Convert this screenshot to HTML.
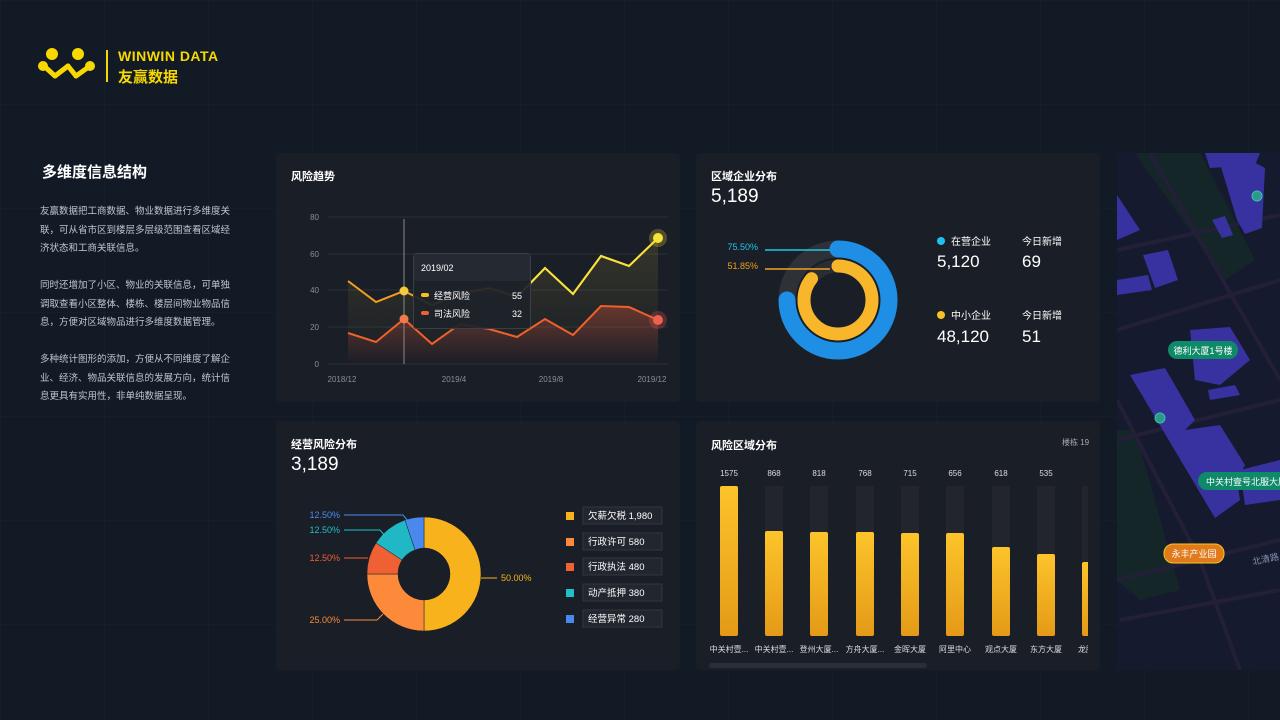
<!DOCTYPE html>
<html><head><meta charset="utf-8"><style>
*{margin:0;padding:0;box-sizing:border-box}
body{width:1280px;height:720px;overflow:hidden;background:#121a26;font-family:"Liberation Sans","Noto Sans CJK SC",sans-serif;color:#fff;position:relative;
background-image:linear-gradient(rgba(255,255,255,0.018) 1px,transparent 1px),linear-gradient(90deg,rgba(255,255,255,0.018) 1px,transparent 1px);background-size:104px 104px}
.abs{position:absolute}
.panel{position:absolute;background:#1a1e26;border-radius:4px}
.t{position:absolute;font-size:11px;color:#fff;font-weight:bold}
.big{position:absolute;font-size:19px;color:#fff}
.lp{position:absolute;left:40px;font-size:9.5px;color:#c2c6cc;line-height:18.5px;width:200px}
</style></head><body>
<!-- logo -->
<svg class="abs" style="left:38px;top:46px" width="62" height="40" viewBox="0 0 62 40">
<g fill="#f7d800" stroke="#f7d800" stroke-width="5" stroke-linecap="round">
<line x1="6" y1="20" x2="17" y2="30"/><line x1="17" y1="30" x2="30" y2="20"/><line x1="30" y1="20" x2="38" y2="30"/><line x1="38" y1="30" x2="52" y2="20"/>
<circle cx="14" cy="8" r="3.5"/><circle cx="40" cy="8" r="3.5"/><circle cx="5" cy="20" r="2.5"/><circle cx="52" cy="20" r="2.5"/></g></svg>
<div class="abs" style="left:106px;top:50px;width:2px;height:32px;background:#f7d800"></div>
<div class="abs" style="left:118px;top:48px;font-size:14px;font-weight:bold;color:#f7d800;letter-spacing:0.5px">WINWIN DATA</div>
<div class="abs" style="left:118px;top:66px;font-size:15px;font-weight:bold;color:#f7d800">友赢数据</div>

<div class="abs" style="left:42px;top:161px;font-size:15px;color:#fff;font-weight:bold">多维度信息结构</div>
<div class="lp" style="top:203px">友赢数据把工商数据、物业数据进行多维度关<br>联，可从省市区到楼层多层级范围查看区域经<br>济状态和工商关联信息。</div>
<div class="lp" style="top:277px">同时还增加了小区、物业的关联信息，可单独<br>调取查看小区整体、楼栋、楼层间物业物品信<br>息，方便对区域物品进行多维度数据管理。</div>
<div class="lp" style="top:351px">多种统计图形的添加，方便从不同维度了解企<br>业、经济、物品关联信息的发展方向，统计信<br>息更具有实用性，非单纯数据呈现。</div>

<!-- panel 1 -->
<div class="panel" style="left:276px;top:153px;width:404px;height:249px"></div>
<div class="t" style="left:291px;top:168px">风险趋势</div>
<svg class="abs" style="left:276px;top:153px" width="404" height="249" viewBox="276 153 404 249">
<defs><linearGradient id="gy" x1="0" y1="0" x2="0" y2="1"><stop offset="0" stop-color="#f5e04a" stop-opacity="0.12"/><stop offset="1" stop-color="#f5e04a" stop-opacity="0"/></linearGradient>
<linearGradient id="gr" x1="0" y1="0" x2="0" y2="1"><stop offset="0" stop-color="#e0503a" stop-opacity="0.35"/><stop offset="1" stop-color="#e0503a" stop-opacity="0"/></linearGradient></defs>
<g stroke="#2c3038" stroke-width="1"><line x1="328" y1="217" x2="668" y2="217"/><line x1="328" y1="254" x2="668" y2="254"/><line x1="328" y1="290" x2="668" y2="290"/><line x1="328" y1="327" x2="668" y2="327"/><line x1="328" y1="364" x2="668" y2="364"/></g>
<g fill="#8a8e96" font-size="8" text-anchor="end"><text x="319" y="220">80</text><text x="319" y="257">60</text><text x="319" y="293">40</text><text x="319" y="330">20</text><text x="319" y="367">0</text></g>
<g fill="#8a8e96" font-size="8" text-anchor="middle"><text x="342" y="382">2018/12</text><text x="454" y="382">2019/4</text><text x="551" y="382">2019/8</text><text x="652" y="382">2019/12</text></g>
<path d="M348 281 L376 302 L404 291 L432 305 L460 294 L489 288 L517 297 L545 268 L573 294 L601 256 L629 266 L658 238 L658 364 L348 364Z" fill="url(#gy)"/>
<path d="M348 333 L376 342 L404 319 L432 344 L460 324 L489 329 L517 337 L545 319 L573 335 L601 306 L629 307 L658 320 L658 364 L348 364Z" fill="url(#gr)"/>
<polyline points="348,281 376,302 404,291 432,305 460,294 489,288 517,297 545,268 573,294 601,256 629,266 658,238" fill="none" stroke="#f3a01c" stroke-width="2"/>
<polyline points="517,297 545,268 573,294 601,256 629,266 658,238" fill="none" stroke="#f7e23c" stroke-width="2"/>
<polyline points="348,333 376,342 404,319 432,344 460,324 489,329 517,337 545,319 573,335 601,306 629,307 658,320" fill="none" stroke="#f0602a" stroke-width="2"/>
<line x1="404" y1="219" x2="404" y2="364" stroke="#888" stroke-width="1"/>
<circle cx="404" cy="291" r="4.5" fill="#f7c93c"/><circle cx="404" cy="319" r="4.5" fill="#f27a4a"/>
<circle cx="658" cy="238" r="9" fill="#f7e23c" opacity="0.25"/><circle cx="658" cy="238" r="5" fill="#f7e23c"/>
<circle cx="658" cy="320" r="9" fill="#f06050" opacity="0.25"/><circle cx="658" cy="320" r="5" fill="#f06050"/>
<rect x="413.5" y="253.5" width="117" height="75" rx="3" fill="#1e222a" fill-opacity="0.93" stroke="#3a3e46"/>
<rect x="414" y="254" width="116" height="27" fill="#252a32"/>
<text x="421" y="271" font-size="9" fill="#fff">2019/02</text>
<rect x="421" y="293" width="8" height="4" rx="2" fill="#f7c020"/><text x="434" y="299" font-size="9" fill="#fff">经营风险</text><text x="522" y="299" font-size="9" fill="#fff" text-anchor="end">55</text>
<rect x="421" y="311" width="8" height="4" rx="2" fill="#f06030"/><text x="434" y="317" font-size="9" fill="#fff">司法风险</text><text x="522" y="317" font-size="9" fill="#fff" text-anchor="end">32</text>
</svg>

<!-- panel 2 -->
<div class="panel" style="left:696px;top:153px;width:404px;height:249px"></div>
<div class="t" style="left:711px;top:168px">区域企业分布</div>
<div class="big" style="left:711px;top:186px">5,189</div>
<svg class="abs" style="left:696px;top:153px" width="404" height="249" viewBox="696 153 404 249">
<circle cx="838" cy="300" r="51" fill="none" stroke="#2e3138" stroke-width="17"/>
<circle cx="838" cy="300" r="34" fill="none" stroke="#2a2d33" stroke-width="13"/>
<circle cx="838" cy="300" r="51" fill="none" stroke="#1f8fe6" stroke-width="17" stroke-linecap="round" stroke-dasharray="240 400" transform="rotate(-90 838 300)"/>
<circle cx="838" cy="300" r="34" fill="none" stroke="#f8b72a" stroke-width="13" stroke-linecap="round" stroke-dasharray="183 400" transform="rotate(-90 838 300)"/>
<line x1="765" y1="250" x2="830" y2="250" stroke="#1ec8e8" stroke-width="1.5"/>
<line x1="765" y1="269" x2="830" y2="269" stroke="#f0a020" stroke-width="1.5"/>
<text x="758" y="250" font-size="9" fill="#1ec8e8" text-anchor="end">75.50%</text>
<text x="758" y="269" font-size="9" fill="#f0a020" text-anchor="end">51.85%</text>
<circle cx="941" cy="241" r="4" fill="#1ec0f0"/><text x="951" y="245" font-size="10" fill="#fff">在营企业</text>
<text x="1022" y="245" font-size="10" fill="#fff">今日新增</text>
<text x="937" y="267" font-size="17" fill="#fff">5,120</text><text x="1022" y="267" font-size="17" fill="#fff">69</text>
<circle cx="941" cy="315" r="4" fill="#f8c020"/><text x="951" y="319" font-size="10" fill="#fff">中小企业</text>
<text x="1022" y="319" font-size="10" fill="#fff">今日新增</text>
<text x="937" y="342" font-size="17" fill="#fff">48,120</text><text x="1022" y="342" font-size="17" fill="#fff">51</text>
</svg>

<!-- panel 3 -->
<div class="panel" style="left:276px;top:421px;width:404px;height:249px"></div>
<div class="t" style="left:291px;top:436px">经营风险分布</div>
<div class="big" style="left:291px;top:454px">3,189</div>
<svg class="abs" style="left:276px;top:421px" width="404" height="249" viewBox="276 421 404 249">
<g stroke="#1a1e26" stroke-width="0.5">
<path d="M424 517 A57 57 0 0 1 424 631 L424 600 A26 26 0 0 0 424 548Z" fill="#f8b31c"/>
<path d="M424 631 A57 57 0 0 1 367 574 L398 574 A26 26 0 0 0 424 600Z" fill="#fc8a3a"/>
<path d="M367 574 A57 57 0 0 1 376 543 L402 560 A26 26 0 0 0 398 574Z" fill="#f06035"/>
<path d="M376 543 A57 57 0 0 1 405 520 L415 550 A26 26 0 0 0 402 560Z" fill="#20b8c4"/>
<path d="M405 520 A57 57 0 0 1 424 517 L424 548 A26 26 0 0 0 415 550Z" fill="#4a88ee"/>
</g>
<g fill="none" stroke-width="1"><polyline points="344,515 403,515 408,521" stroke="#4a8ef0"/><polyline points="344,530 380,530 386,537" stroke="#20c0c8"/><polyline points="344,558 368,558" stroke="#f06035"/><polyline points="344,620 377,620 383,614" stroke="#fc8a3a"/><polyline points="481,578 497,578" stroke="#f8b31c"/></g>
<g font-size="9"><text x="340" y="518" fill="#4a8ef0" text-anchor="end">12.50%</text><text x="340" y="533" fill="#20c0c8" text-anchor="end">12.50%</text><text x="340" y="561" fill="#f06035" text-anchor="end">12.50%</text><text x="340" y="623" fill="#fc8a3a" text-anchor="end">25.00%</text><text x="501" y="581" fill="#f8b31c">50.00%</text></g>
<g font-size="9.5" fill="#fff">
<rect x="566" y="512" width="8" height="8" fill="#f8b31c"/><rect x="583" y="507" width="79" height="17" fill="#22262e" stroke="#33373f"/><text x="588" y="519">欠薪欠税 1,980</text>
<rect x="566" y="538" width="8" height="8" fill="#fc8a3a"/><rect x="583" y="533" width="79" height="17" fill="#22262e" stroke="#33373f"/><text x="588" y="545">行政许可 580</text>
<rect x="566" y="563" width="8" height="8" fill="#f06035"/><rect x="583" y="558" width="79" height="17" fill="#22262e" stroke="#33373f"/><text x="588" y="570">行政执法 480</text>
<rect x="566" y="589" width="8" height="8" fill="#20c0c8"/><rect x="583" y="584" width="79" height="17" fill="#22262e" stroke="#33373f"/><text x="588" y="596">动产抵押 380</text>
<rect x="566" y="615" width="8" height="8" fill="#4a88ee"/><rect x="583" y="610" width="79" height="17" fill="#22262e" stroke="#33373f"/><text x="588" y="622">经营异常 280</text>
</g>
</svg>

<!-- panel 4 -->
<div class="panel" style="left:696px;top:421px;width:404px;height:249px"></div>
<div class="t" style="left:711px;top:437px">风险区域分布</div>
<div class="abs" style="left:1062px;top:437px;font-size:8px;color:#aaa">楼栋 19</div>
<svg class="abs" style="left:696px;top:421px" width="392" height="249" viewBox="696 421 392 249">
<defs><linearGradient id="gb" x1="0" y1="0" x2="0" y2="1"><stop offset="0" stop-color="#fcc42a"/><stop offset="1" stop-color="#e49a18"/></linearGradient></defs>
<g fill="#22252c"><rect x="765" y="486" width="18" height="150"/><rect x="810" y="486" width="18" height="150"/><rect x="856" y="486" width="18" height="150"/><rect x="901" y="486" width="18" height="150"/><rect x="946" y="486" width="18" height="150"/><rect x="992" y="486" width="18" height="150"/><rect x="1037" y="486" width="18" height="150"/><rect x="1082" y="486" width="18" height="150"/></g>
<g fill="url(#gb)"><rect x="720" y="486" width="18" height="150" rx="2"/><rect x="765" y="531" width="18" height="105" rx="2"/><rect x="810" y="532" width="18" height="104" rx="2"/><rect x="856" y="532" width="18" height="104" rx="2"/><rect x="901" y="533" width="18" height="103" rx="2"/><rect x="946" y="533" width="18" height="103" rx="2"/><rect x="992" y="547" width="18" height="89" rx="2"/><rect x="1037" y="554" width="18" height="82" rx="2"/><rect x="1082" y="562" width="18" height="74" rx="2"/></g>
<g font-size="8" fill="#ddd" text-anchor="middle"><text x="729" y="476">1575</text><text x="774" y="476">868</text><text x="819" y="476">818</text><text x="865" y="476">768</text><text x="910" y="476">715</text><text x="955" y="476">656</text><text x="1001" y="476">618</text><text x="1046" y="476">535</text>
<text x="729" y="652">中关村壹...</text><text x="774" y="652">中关村壹...</text><text x="819" y="652">登州大厦...</text><text x="865" y="652">方舟大厦...</text><text x="910" y="652">金晖大厦</text><text x="955" y="652">阿里中心</text><text x="1001" y="652">观点大厦</text><text x="1046" y="652">东方大厦</text><text x="1086" y="652">龙腾</text></g>
<rect x="709" y="663" width="218" height="5" rx="2.5" fill="#2a2e36"/>
</svg>

<!-- map -->
<svg class="abs" style="left:1117px;top:153px" width="163" height="517" viewBox="1117 153 163 517">
<rect x="1117" y="153" width="163" height="517" fill="#161a2e"/>
<path d="M1135 153 L1200 153 L1255 260 L1225 280 Z" fill="#152628"/>
<path d="M1117 430 L1135 430 L1180 590 L1140 600 L1117 580Z" fill="#152628"/>
<g stroke="#241f38" stroke-width="4" fill="none"><path d="M1117 250 L1280 215"/><path d="M1117 330 L1280 280"/><path d="M1117 440 L1280 400"/><path d="M1117 580 L1280 540"/><path d="M1150 153 L1280 380"/><path d="M1117 400 L1200 560 L1240 670"/><path d="M1120 620 L1280 590"/></g>
<g fill="#3732a0"><path d="M1117 195 L1140 230 L1117 240Z"/><path d="M1143 255 L1168 250 L1178 280 L1155 288Z"/><path d="M1117 280 L1148 275 L1152 290 L1117 295Z"/><path d="M1221 167 L1250 160 L1265 168 L1262 228 L1245 234 L1237 220Z"/><path d="M1212 220 L1225 216 L1233 235 L1222 238Z"/><path d="M1190 330 L1230 327 L1250 360 L1220 385 L1195 380Z"/><path d="M1130 375 L1165 368 L1195 420 L1185 430 L1220 425 L1245 465 L1237 480 L1240 500 L1215 518 Z"/><path d="M1240 470 L1280 460 L1280 500 L1245 505Z"/><path d="M1208 390 L1235 385 L1240 395 L1210 400Z"/><path d="M1205 153 L1260 153 L1255 165 L1210 168Z"/></g>
<circle cx="1257" cy="196" r="5" fill="#2a9a8a" stroke="#3fc0a8"/><circle cx="1160" cy="418" r="5" fill="#2a9a8a" stroke="#3fc0a8"/>
<rect x="1168" y="341" width="70" height="18" rx="9" fill="#0f8a68"/><text x="1203" y="354" font-size="9" fill="#fff" text-anchor="middle">德利大厦1号楼</text>
<rect x="1198" y="472" width="90" height="18" rx="9" fill="#0f8a68"/><text x="1206" y="485" font-size="9" fill="#fff">中关村壹号北服大厦</text>
<rect x="1164" y="544" width="60" height="19" rx="9" fill="#e07a1a" stroke="#f7c820"/><text x="1194" y="557" font-size="9" fill="#fff" text-anchor="middle">永丰产业园</text>
<text x="1253" y="565" font-size="9" fill="#8890b0" transform="rotate(-12 1253 565)">北清路</text>
</svg>
</body></html>
